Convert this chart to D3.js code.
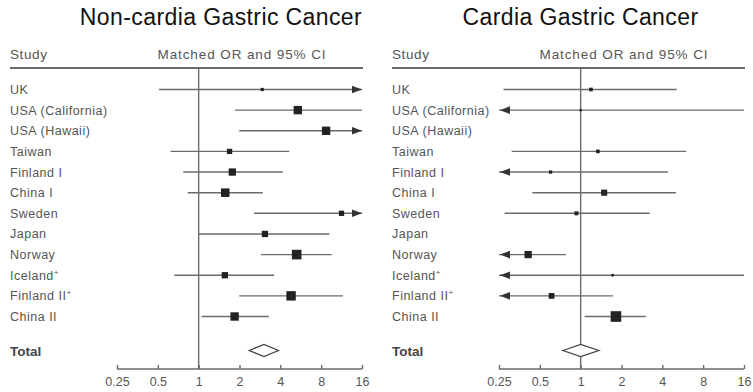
<!DOCTYPE html>
<html>
<head>
<meta charset="utf-8">
<script src="https://cdn.jsdelivr.net/npm/d3@7"></script>
<style>
  body { margin: 0; background: #fff; }
  svg { display: block; }
</style>
</head>
<body>
<svg id="chart" width="753" height="392"></svg>
<script>
// Studies (a trailing "+" is drawn as a superscript mark)
const studies = ["UK", "USA (California)", "USA (Hawaii)", "Taiwan", "Finland I", "China I",
                 "Sweden", "Japan", "Norway", "Iceland+", "Finland II+", "China II"];

// Non-cardia gastric cancer: matched OR, 95% CI and relative study weight
const nonCardiaOR     = [2.94, 5.38, 8.7, 1.69, 1.77, 1.57, 11.3, 3.08, 5.28, 1.56, 4.8, 1.84];
const nonCardiaLower  = [0.51, 1.86, 1.99, 0.62, 0.77, 0.83, 2.56, 1.0, 2.88, 0.66, 1.99, 1.05];
const nonCardiaUpper  = [24, 16, 20, 4.66, 4.16, 2.97, 30, 9.2, 9.58, 3.6, 11.55, 3.29];
const nonCardiaWeight = [8, 53, 53, 21, 40, 55, 21, 30, 70, 30, 67, 53];
const nonCardiaTotal  = [2.36, 3.03, 3.87];   // lower, pooled OR, upper

// Cardia gastric cancer (null = no cases reported)
const cardiaOR     = [1.19, 1.0, null, 1.34, 0.6, 1.49, 0.93, null, 0.41, 1.72, 0.61, 1.82];
const cardiaLower  = [0.27, 0.1, null, 0.31, 0.15, 0.44, 0.275, null, 0.2, 0.1, 0.2, 1.07];
const cardiaUpper  = [5.1, 16, null, 6.0, 4.4, 5.05, 3.23, null, 0.78, 16, 1.73, 3.02];
const cardiaWeight = [10, 4, 0, 10, 8, 28, 12, 0, 40, 5, 25, 85];
const cardiaTotal  = [0.74, 1.0, 1.36];

// Axis ticks
const tickValues = [0.25, 0.5, 1, 2, 4, 8, 16];
const tickLabels = ["0.25", "0.5", "1", "2", "4", "8", "16"];

const panels = [
  { title: "Non-cardia Gastric Cancer", titleX: 221, dx: 0,
    or: nonCardiaOR, lo: nonCardiaLower, hi: nonCardiaUpper, w: nonCardiaWeight, total: nonCardiaTotal },
  { title: "Cardia Gastric Cancer", titleX: 580.5, dx: 382,
    or: cardiaOR, lo: cardiaLower, hi: cardiaUpper, w: cardiaWeight, total: cardiaTotal }
];

const svg = d3.select("#chart");
const font = "'Liberation Sans', Arial, Helvetica, sans-serif";
const textGrey = "#555";
const lineGrey = "#6b6b6b";

const y = d3.scalePoint().domain(studies).range([89.5, 316.5]);
const totalY = 350.5;
const headerLineY = 68;
const axisY = 369;
const size = d3.scaleSqrt().domain([0, 100]).range([0, 11.5]);

panels.forEach(p => {
  const g = svg.append("g").attr("transform", `translate(${p.dx},0)`);
  const x = d3.scaleLog().base(2).domain([0.25, 16]).range([117, 362]);
  const [xmin, xmax] = x.range();

  // Panel title
  svg.append("text")
    .attr("x", p.titleX).attr("y", 25)
    .attr("text-anchor", "middle")
    .attr("font-family", font).attr("font-size", 23).attr("letter-spacing", 0.4)
    .attr("fill", "#111")
    .text(p.title);

  // Column headers and rule
  g.append("text").attr("x", 10).attr("y", 59)
    .attr("font-family", font).attr("font-size", 13.5).attr("letter-spacing", 0.6)
    .attr("fill", textGrey).text("Study");
  g.append("text").attr("x", 242).attr("y", 59).attr("text-anchor", "middle")
    .attr("font-family", font).attr("font-size", 13.5).attr("letter-spacing", 0.9)
    .attr("fill", textGrey).text("Matched OR and 95% CI");
  g.append("line").attr("x1", 10).attr("x2", 363)
    .attr("y1", headerLineY).attr("y2", headerLineY)
    .attr("stroke", lineGrey).attr("stroke-width", 2);

  // Line of no effect
  g.append("line").attr("x1", x(1)).attr("x2", x(1))
    .attr("y1", headerLineY).attr("y2", axisY)
    .attr("stroke", lineGrey).attr("stroke-width", 1.4);

  // Study labels
  const labels = g.selectAll("text.study").data(studies).join("text")
    .attr("class", "study")
    .attr("x", 10).attr("y", d => y(d) + 4.5)
    .attr("font-family", font).attr("font-size", 12.5).attr("letter-spacing", 0.5)
    .attr("fill", textGrey);
  labels.each(function (d) {
    const t = d3.select(this);
    const sup = d.endsWith("+");
    t.append("tspan").text(sup ? d.slice(0, -1) : d);
    if (sup) t.append("tspan").attr("dy", -5).attr("font-size", 8).text("+");
  });

  // Confidence intervals, squares and arrowheads
  const rows = studies.map((s, i) => ({ s, or: p.or[i], lo: p.lo[i], hi: p.hi[i], w: p.w[i] }))
    .filter(d => d.or != null);
  const clamp = v => Math.max(xmin, Math.min(xmax, x(v)));

  g.selectAll("line.ci").data(rows).join("line")
    .attr("class", "ci")
    .attr("x1", d => clamp(d.lo)).attr("x2", d => clamp(d.hi))
    .attr("y1", d => y(d.s)).attr("y2", d => y(d.s))
    .attr("stroke", lineGrey).attr("stroke-width", 1.4);

  g.selectAll("path.arrow-r").data(rows.filter(d => d.hi > 16)).join("path")
    .attr("class", "arrow-r")
    .attr("d", d => `M${xmax},${y(d.s)} l-10,-3.8 l0,7.6 Z`)
    .attr("fill", "#333");
  g.selectAll("path.arrow-l").data(rows.filter(d => d.lo < 0.25)).join("path")
    .attr("class", "arrow-l")
    .attr("d", d => `M${xmin + 1},${y(d.s)} l10,-3.8 l0,7.6 Z`)
    .attr("fill", "#333");

  g.selectAll("rect.est").data(rows).join("rect")
    .attr("class", "est")
    .attr("x", d => x(d.or) - size(d.w) / 2)
    .attr("y", d => y(d.s) - size(d.w) / 2)
    .attr("width", d => size(d.w)).attr("height", d => size(d.w))
    .attr("fill", "#222");

  // Pooled estimate
  g.append("text").attr("x", 10).attr("y", totalY + 5)
    .attr("font-family", font).attr("font-size", 13.5).attr("font-weight", "bold")
    .attr("fill", "#444").text("Total");
  const [tl, te, th] = p.total;
  g.append("path")
    .attr("d", `M${x(tl)},${totalY} L${x(te)},${totalY - 6} L${x(th)},${totalY} L${x(te)},${totalY + 6} Z`)
    .attr("fill", "#fff").attr("stroke", "#444").attr("stroke-width", 1.3);

  // Log axis with ticks pointing up
  const axis = d3.axisTop(x).tickValues(tickValues).tickSize(4)
    .tickFormat((d, i) => tickLabels[i]);
  const ax = g.append("g").attr("transform", `translate(0,${axisY})`).call(axis);
  ax.select(".domain").attr("d", `M${xmin},0 H${xmax}`).attr("stroke", lineGrey).attr("stroke-width", 1.4);
  ax.selectAll(".tick line").attr("stroke", lineGrey).attr("stroke-width", 1.4);
  ax.selectAll(".tick text")
    .attr("y", 17).attr("dy", 0)
    .attr("font-family", font).attr("font-size", 12.5)
    .attr("fill", textGrey);
});
</script>
</body>
</html>
